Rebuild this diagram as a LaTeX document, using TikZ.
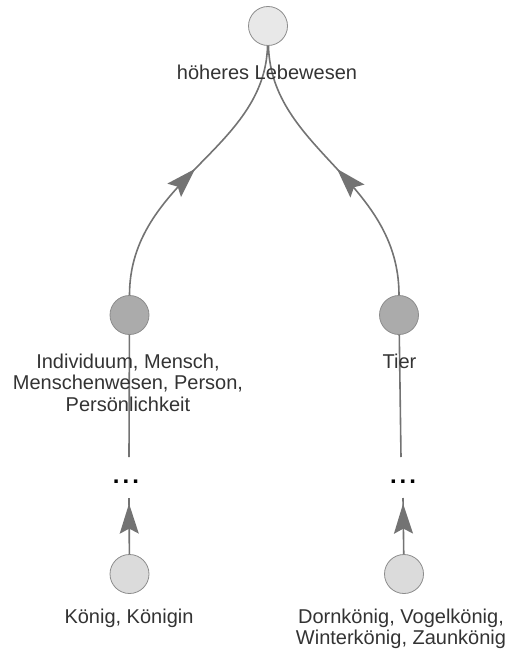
\documentclass[tikz,border=0pt]{standalone}
\usepackage{fontspec}
\setmainfont{Liberation Sans}
\usetikzlibrary{arrows.meta,decorations.markings}
\begin{document}
\begin{tikzpicture}[x=1pt,y=-1pt,
 concept/.style={circle, draw=black!45, line width=0.8pt, minimum size=39pt, inner sep=0pt},
 toplevel/.style={concept, fill=black!9},
 midlevel/.style={concept, fill=black!33},
 leaflevel/.style={concept, fill=black!14},
 lbl/.style={text=black!80, font=\fontsize{20}{21.5}\selectfont, align=center, inner sep=0pt, anchor=base},
 ellipsisdots/.style={text=black, font=\bfseries\fontsize{24}{24}\selectfont, inner sep=0pt},
 link/.style={draw=black!55, line width=1.6pt},
 midarrow/.style={postaction={decorate}, decoration={markings, mark=at position #1 with {\arrow{Stealth[length=30pt,width=19pt,inset=5pt]}}}},
]
\useasboundingbox (0,0) rectangle (507,650);

% concept nodes
\node[toplevel] (t) at (268,26) {};
\node[midlevel] (m1) at (129.5,315) {};
\node[midlevel] (m2) at (399,315) {};
\node[leaflevel] (b1) at (129.5,574) {};
\node[leaflevel] (b2) at (404,574) {};

% ellipsis nodes and line ends
\node[ellipsisdots] (d1) at (126,482) {.\hspace{3pt}.\hspace{3pt}.};
\node[ellipsisdots] (d2) at (403,482) {.\hspace{3pt}.\hspace{3pt}.};
\coordinate (d1t) at (129,457);
\coordinate (d1b) at (129,498);
\coordinate (d2t) at (401,457);
\coordinate (d2b) at (403,498);

% connectors
\draw[link, midarrow=0.5] (m1) .. controls (129.5,180) and (265,150) .. (t);
\draw[link, midarrow=0.5] (m2) .. controls (399,180) and (271,150) .. (t);
\draw[link] (m1) -- (d1t);
\draw[link] (m2) -- (d2t);
\draw[link, midarrow=0.9] (b1) -- (d1b);
\draw[link, midarrow=0.9] (b2) -- (d2b);

% labels (base anchor = baseline of the last line)
\node[lbl] (tl) at (267,80) {höheres Lebewesen};
\node[lbl] (m1l) at (128,411) {Individuum, Mensch,\\Menschenwesen, Person,\\Persönlichkeit};
\node[lbl] (m2l) at (399.5,368) {Tier};
\node[lbl] (b1l) at (129,623) {König, Königin};
\node[lbl] (b2l) at (401,644.5) {Dornkönig, Vogelkönig,\\Winterkönig, Zaunkönig};
\end{tikzpicture}
\end{document}
